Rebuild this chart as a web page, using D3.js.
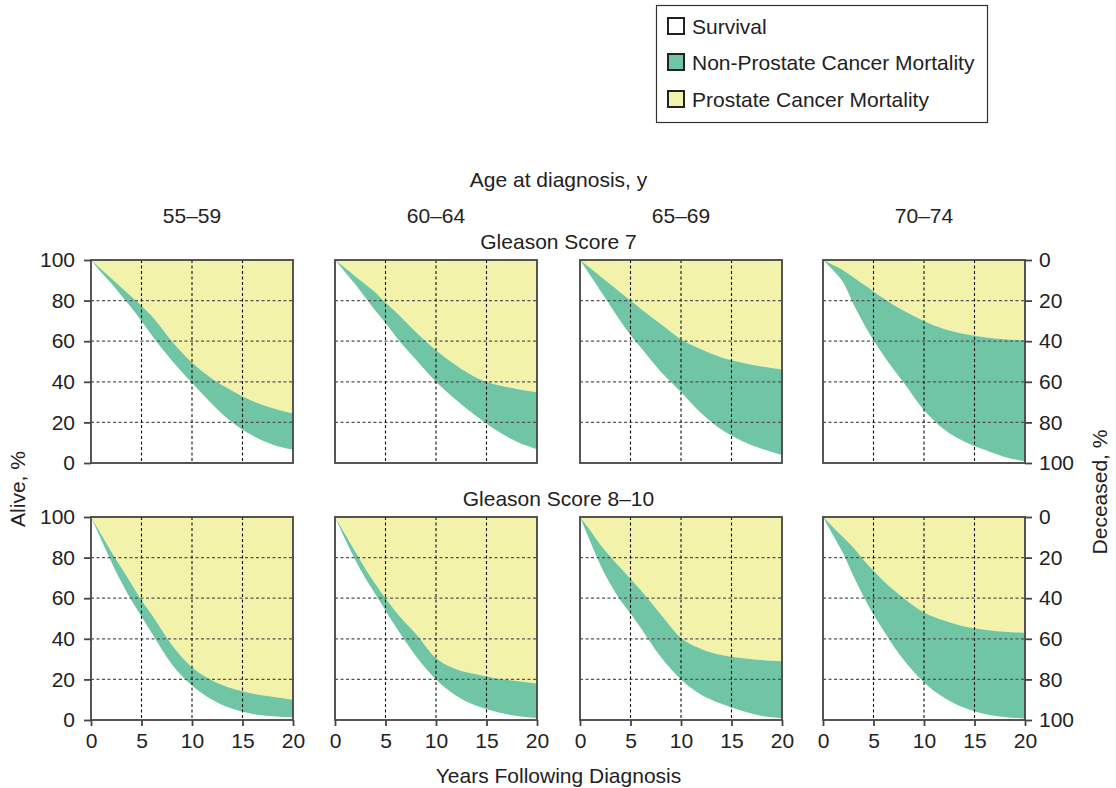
<!DOCTYPE html>
<html>
<head>
<meta charset="utf-8">
<script src="https://cdn.jsdelivr.net/npm/d3@7"></script>
<style>
  html, body { margin: 0; padding: 0; background: #fff; }
  svg { display: block; font-family: "Liberation Sans", Arial, Helvetica, sans-serif; }
</style>
</head>
<body>
<svg id="chart" width="1116" height="788"></svg>
<script>
// ---------------- DATA ----------------
const years = [0, 1, 2, 3, 4, 5, 6, 8, 10, 12, 14, 16, 18, 20];
const ageGroups = ["55–59", "60–64", "65–69", "70–74"];
const gleasonRows = ["Gleason Score 7", "Gleason Score 8–10"];
const xTicks = [0, 5, 10, 15, 20];
const yTicks = [0, 20, 40, 60, 80, 100];
const legendLabels = ["Survival", "Non-Prostate Cancer Mortality", "Prostate Cancer Mortality"];

// Survival (% alive) — lower edge of green band
const survGs7_5559 = [100, 94, 88.5, 82.5, 76.5, 70, 63, 50.5, 39.5, 29, 20, 13.5, 9, 6.6];
const survGs7_6064 = [100, 94, 88, 81.5, 75, 69, 62.5, 51, 40, 31, 23, 16, 10.5, 6.8];
const survGs7_6569 = [100, 92.5, 85, 77.5, 70, 63, 57, 45, 35, 24.5, 16.5, 11, 7, 4];
const survGs7_7074 = [100, 95, 89, 78.5, 69, 60.5, 53, 39.5, 26, 16.5, 10.5, 6.5, 3, 0.8];
const survGs810_5559 = [100, 89, 78, 68, 59, 51, 43, 27.5, 17, 10, 5.5, 3, 1.8, 1.3];
const survGs810_6064 = [100, 89, 79, 70, 62, 54, 46, 31.5, 20, 12, 7, 4, 2, 1];
const survGs810_6569 = [100, 88, 76.5, 67, 59, 52.5, 45.5, 31, 20, 12.5, 8, 4.5, 2, 1];
const survGs810_7074 = [100, 91, 82, 71, 61, 52, 44, 29.5, 18.5, 11, 6, 3, 1.5, 0.7];

// Survival + non-prostate cancer mortality (% not dead of prostate cancer) — upper edge of green band
const noPcdGs7_5559 = [100, 95.5, 91, 86.5, 82, 77.5, 72.5, 60, 49.5, 41.5, 35.5, 30.5, 27, 24.4];
const noPcdGs7_6064 = [100, 96, 92, 88, 84, 79, 74.5, 64.5, 55.5, 48, 42, 38.5, 36.5, 34.8];
const noPcdGs7_6569 = [100, 96, 92, 88, 84, 80, 76, 68.5, 61, 56, 52, 49.5, 47.5, 46];
const noPcdGs7_7074 = [100, 97.5, 95, 91.5, 88, 84.5, 81, 75, 70, 66, 63.5, 62, 61, 60.5];
const noPcdGs810_5559 = [100, 91.5, 83, 75, 67, 59, 52, 37, 26, 19.5, 15.5, 13, 11.5, 10];
const noPcdGs810_6064 = [100, 91.5, 83, 74.5, 67, 60, 53.5, 42.5, 30.5, 25, 22.5, 20.5, 19.2, 18];
const noPcdGs810_6569 = [100, 93.5, 86.5, 80.5, 75, 69.5, 64, 52, 40.5, 35, 32, 30.5, 29.5, 29];
const noPcdGs810_7074 = [100, 95, 90, 85, 79, 73.5, 68.5, 60, 53, 49, 46, 44.5, 43.5, 43];

const panels = [
  [ {surv: survGs7_5559, top: noPcdGs7_5559}, {surv: survGs7_6064, top: noPcdGs7_6064},
    {surv: survGs7_6569, top: noPcdGs7_6569}, {surv: survGs7_7074, top: noPcdGs7_7074} ],
  [ {surv: survGs810_5559, top: noPcdGs810_5559}, {surv: survGs810_6064, top: noPcdGs810_6064},
    {surv: survGs810_6569, top: noPcdGs810_6569}, {surv: survGs810_7074, top: noPcdGs810_7074} ]
];

// ---------------- LAYOUT ----------------
const colX = [91, 335, 580, 823];
const rowY = [260, 517];
const pw = 202, ph = 203;
const GREEN = "#70c6a4", YELLOW = "#f2f2aa", FRAME = "#444";
const FS = 21;

const svg = d3.select("#chart");

const x = d3.scaleLinear().domain([0, 20]).range([0, pw]);
const y = d3.scaleLinear().domain([0, 100]).range([ph, 0]);
const yDec = d3.scaleLinear().domain([0, 100]).range([0, ph]);

const areaGreen = d3.area().x((d) => x(d.t)).y0((d) => y(d.s)).y1((d) => y(d.u)).curve(d3.curveMonotoneX);
const areaYellow = d3.area().x((d) => x(d.t)).y0((d) => y(d.u)).y1(() => y(100)).curve(d3.curveMonotoneX);

panels.forEach((row, r) => {
  row.forEach((p, c) => {
    const g = svg.append("g").attr("transform", `translate(${colX[c]},${rowY[r]})`);
    const pts = years.map((t, i) => ({t: t, s: p.surv[i], u: p.top[i]}));
    g.append("rect").attr("width", pw).attr("height", ph).attr("fill", "#fff");
    g.append("path").datum(pts).attr("d", areaYellow).attr("fill", YELLOW);
    g.append("path").datum(pts).attr("d", areaGreen).attr("fill", GREEN);

    // grid
    g.selectAll(".hg").data([20, 40, 60, 80]).enter().append("line")
      .attr("x1", 0).attr("x2", pw).attr("y1", (d) => y(d)).attr("y2", (d) => y(d))
      .attr("stroke", "#555").attr("stroke-width", 1.2).attr("stroke-dasharray", "3,2.5");
    g.selectAll(".vg").data([5, 10, 15]).enter().append("line")
      .attr("y1", 0).attr("y2", ph).attr("x1", (d) => x(d)).attr("x2", (d) => x(d))
      .attr("stroke", "#111").attr("stroke-width", 1.1).attr("stroke-dasharray", "3,2.5");

    // frame
    g.append("rect").attr("width", pw).attr("height", ph).attr("fill", "none")
      .attr("stroke", FRAME).attr("stroke-width", 1.8);

    if (c === 0) {
      const ax = g.append("g").call(d3.axisLeft(y).tickValues(yTicks).tickSize(7).tickPadding(9));
      ax.select(".domain").remove();
      ax.selectAll("line").attr("stroke", FRAME).attr("stroke-width", 1.8);
      ax.selectAll("text").attr("font-size", FS).attr("fill", "#222").attr("font-family", "Liberation Sans, Arial, sans-serif");
    }
    if (c === 3) {
      const ax = g.append("g").attr("transform", `translate(${pw},0)`)
        .call(d3.axisRight(yDec).tickValues(yTicks).tickSize(7).tickPadding(7));
      ax.select(".domain").remove();
      ax.selectAll("line").attr("stroke", FRAME).attr("stroke-width", 1.8);
      ax.selectAll("text").attr("font-size", FS).attr("fill", "#222").attr("font-family", "Liberation Sans, Arial, sans-serif");
    }
    if (r === 1) {
      const ax = g.append("g").attr("transform", `translate(0,${ph})`)
        .call(d3.axisBottom(x).tickValues(xTicks).tickSize(6).tickPadding(7));
      ax.select(".domain").remove();
      ax.selectAll("line").attr("stroke", FRAME).attr("stroke-width", 1.8);
      ax.selectAll("text").attr("font-size", FS).attr("fill", "#222").attr("font-family", "Liberation Sans, Arial, sans-serif");
    }
  });
});

// ---------------- TEXT ----------------
const cx = (colX[1] + pw + colX[2]) / 2;
function label(txt, xx, yy, opts = {}) {
  const t = svg.append("text").attr("x", xx).attr("y", yy).text(txt)
    .attr("font-size", FS).attr("fill", "#222")
    .attr("text-anchor", opts.anchor || "middle");
  if (opts.rotate) t.attr("transform", `rotate(${opts.rotate},${xx},${yy})`);
  return t;
}
label("Age at diagnosis, y", cx, 187);
ageGroups.forEach((a, i) => label(a, colX[i] + pw / 2, 223));
label(gleasonRows[0], cx, 249);
label(gleasonRows[1], cx, 506);
label("Years Following Diagnosis", cx, 783);
label("Alive, %", 25, 489, {rotate: -90});
label("Deceased, %", 1107, 492, {rotate: -90});

// ---------------- LEGEND ----------------
const lg = svg.append("g");
lg.append("rect").attr("x", 656.5).attr("y", 5.5).attr("width", 331).attr("height", 117)
  .attr("fill", "#fff").attr("stroke", "#333").attr("stroke-width", 1.2);
const legendFill = ["#fff", GREEN, YELLOW];
const legendY = [26, 62, 99];
legendLabels.forEach((l, i) => {
  lg.append("rect").attr("x", 668).attr("y", legendY[i] - 8).attr("width", 16).attr("height", 16)
    .attr("fill", legendFill[i]).attr("stroke", "#222").attr("stroke-width", 2);
  lg.append("text").attr("x", 692).attr("y", legendY[i] + 7.5).text(l)
    .attr("font-size", FS).attr("fill", "#222");
});
</script>
</body>
</html>
